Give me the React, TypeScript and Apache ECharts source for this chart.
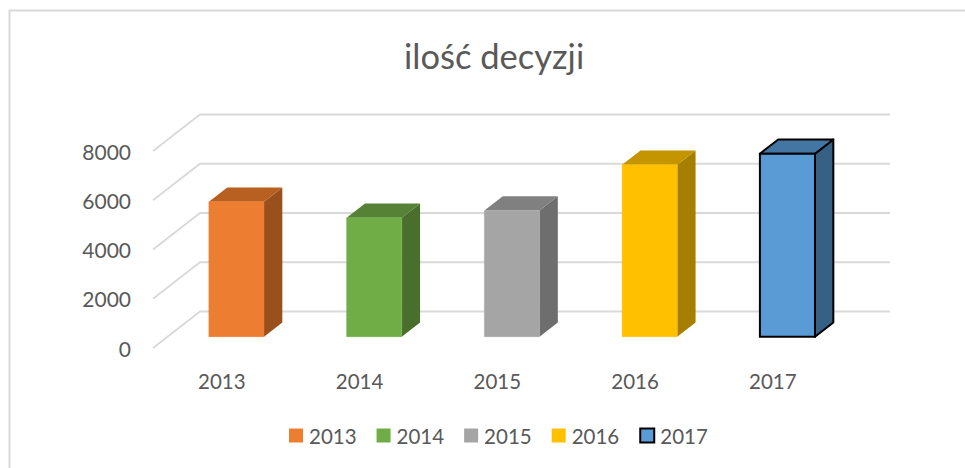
import React, { useEffect, useRef } from "react";
import * as echarts from "echarts";

const categories = ["2013", "2014", "2015", "2016", "2017"];
const decisions = [5480, 4830, 5120, 6985, 7430];
const faceColors = ["#ED7D31", "#70AD47", "#A5A5A5", "#FFC000", "#5B9BD5"];
const topColors = ["#B85F22", "#568235", "#808080", "#C49500", "#4476A4"];
const sideColors = ["#9A501C", "#4A6F2D", "#6E6E6E", "#A77F00", "#376184"];
const tickValues = [0, 2000, 4000, 6000, 8000];
const titleText = "ilość decyzji";

const FONT = "Lato";
const TEXT = "#595959";
const GRID = "#D9D9D9";
const DEPTH_X = 47;
const DEPTH_Y = -36.5;
const WALL_EXTRA = 1.25;
const BAR_OFFSET = 0.31;
const BAR_DEPTH = 0.39;
const BAR_WIDTH = 0.4;

export default function App() {
  const ref = useRef<HTMLDivElement>(null);
  useEffect(() => {
    const chart = echarts.init(ref.current!, undefined, { renderer: "svg" });

    function chartLeft(api: any) {
      const band = api.size([1, 0])[0];
      return api.coord([0, 0])[0] - band / 2;
    }
    function chartRight(api: any) {
      const band = api.size([1, 0])[0];
      return api.coord([categories.length - 1, 0])[0] + band / 2;
    }

    const wallSeries: any = {
      type: "custom",
      silent: true,
      z: 1,
      data: tickValues.map((v) => [v]),
      encode: { y: 0 },
      renderItem: (_p: any, api: any) => {
        const y = api.coord([0, api.value(0)])[1];
        const left = chartLeft(api);
        const right = chartRight(api) + WALL_EXTRA;
        return {
          type: "polyline",
          shape: {
            points: [
              [left, y],
              [left + DEPTH_X, y + DEPTH_Y],
              [right + DEPTH_X, y + DEPTH_Y],
            ],
          },
          style: { stroke: GRID, lineWidth: 1.8, fill: "none" },
        };
      },
    };

    const barSeries = categories.map((name, i) => ({
      type: "custom",
      name,
      z: 2,
      itemStyle: {
        color: faceColors[i],
        ...(i === 4 ? { borderColor: "#000", borderWidth: 2 } : {}),
      },
      data: [[i, decisions[i]]],
      encode: { x: 0, y: 1 },
      renderItem: (_p: any, api: any) => {
        const top = api.coord([api.value(0), api.value(1)]);
        const base = api.coord([api.value(0), 0]);
        const band = api.size([1, 0])[0];
        const w = band * BAR_WIDTH;
        const ox = DEPTH_X * BAR_OFFSET;
        const oy = DEPTH_Y * BAR_OFFSET;
        const dx = DEPTH_X * BAR_DEPTH;
        const dy = DEPTH_Y * BAR_DEPTH;
        const x0 = top[0] + ox - w / 2;
        const x1 = x0 + w;
        const yt = top[1] + oy;
        const yb = base[1] + oy;
        const stroke = i === 4 ? "#000" : faceColors[i];
        const lw = i === 4 ? 2 : 0.5;
        const edge = { stroke: i === 4 ? "#000" : undefined, lineWidth: lw, lineJoin: "round" };
        return {
          type: "group",
          children: [
            {
              type: "polygon",
              shape: { points: [[x1, yt], [x1 + dx, yt + dy], [x1 + dx, yb + dy], [x1, yb]] },
              style: { fill: sideColors[i], ...edge },
            },
            {
              type: "polygon",
              shape: { points: [[x0, yt], [x0 + dx, yt + dy], [x1 + dx, yt + dy], [x1, yt]] },
              style: { fill: topColors[i], ...edge },
            },
            {
              type: "rect",
              shape: { x: x0, y: yt, width: w, height: yb - yt },
              style: { fill: faceColors[i], stroke, lineWidth: lw },
            },
          ],
        };
      },
    }));

    chart.setOption({
      animation: false,
      backgroundColor: "#fff",
      title: {
        text: titleText,
        left: 399,
        top: 33,
        textStyle: { fontFamily: FONT, fontSize: 34.5, fontWeight: "normal", color: TEXT },
      },
      legend: {
        data: categories,
        left: 284,
        top: 420,
        icon: "rect",
        itemWidth: 14,
        itemHeight: 14,
        itemGap: 20,
        itemStyle: {},
        textStyle: { fontFamily: FONT, fontSize: 20.5, color: TEXT, padding: [0, 0, 0, 1] },
      },
      grid: { left: 153, top: 151, width: 688.75, height: 197 },
      xAxis: {
        type: "category",
        data: categories,
        axisLine: { show: false },
        axisTick: { show: false },
        axisLabel: { fontFamily: FONT, fontSize: 20.5, color: TEXT, margin: 22 },
      },
      yAxis: {
        type: "value",
        min: 0,
        max: 8000,
        interval: 2000,
        axisLine: { show: false },
        axisTick: { show: false },
        splitLine: { show: false },
        axisLabel: {
          fontFamily: FONT,
          fontSize: 21,
          color: TEXT,
          margin: 22,
          padding: [4, 0, 0, 0],
          formatter: (v: number) => String(v),
        },
      },
      graphic: [
        {
          type: "polyline",
          silent: true,
          shape: { points: [[9.5, 468], [9.5, 10.5], [965, 10.5]] },
          style: { stroke: "#D9D9D9", lineWidth: 2, fill: "none" },
        },
      ],
      series: [wallSeries, ...barSeries],
    });
    return () => chart.dispose();
  }, []);
  return <div ref={ref} style={{ position: "fixed", left: 0, top: 0, width: 965, height: 468 }} />;
}
